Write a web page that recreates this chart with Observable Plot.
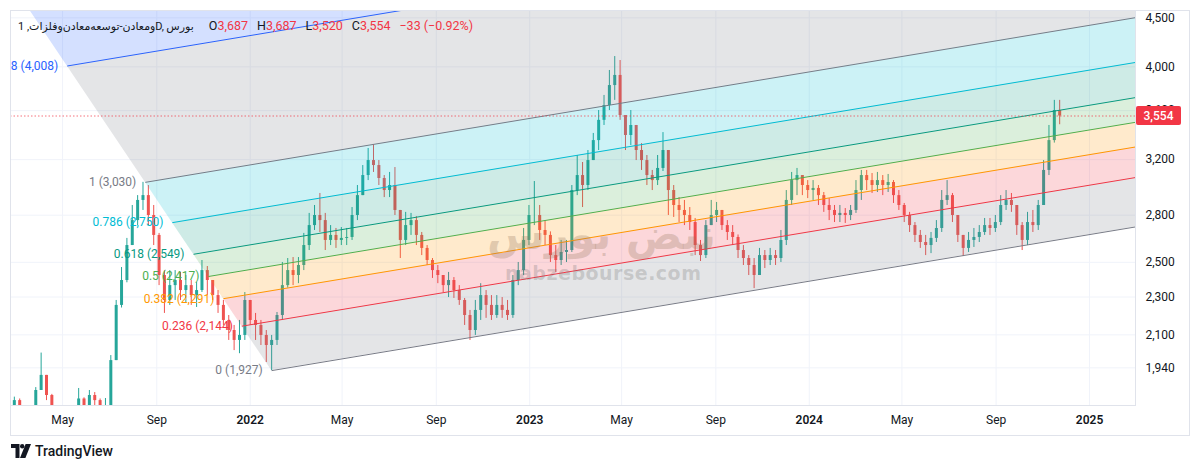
<!DOCTYPE html>
<html><head><meta charset="utf-8">
<script src="https://cdn.jsdelivr.net/npm/d3@7"></script>
<script src="https://cdn.jsdelivr.net/npm/@observablehq/plot@0.6"></script>
<style>
html,body{margin:0;padding:0;background:#fff;}
#wrap{position:relative;width:1200px;height:470px;overflow:hidden;font-family:Roboto,"DejaVu Sans",sans-serif;color:#131722;}
#wrap > svg{position:absolute;left:0;top:0;}
#frameBox{position:absolute;left:10px;top:10px;width:1178px;height:424px;border:1px solid #e0e3eb;pointer-events:none;}
#legend{position:absolute;left:18px;top:18px;font-size:12.5px;white-space:nowrap;line-height:16px;}
#legend .t{unicode-bidi:isolate;margin-right:6px;font-size:11px;letter-spacing:-0.2px;}
#legend .k{margin-left:9px;}
#legend .r{color:#f23645;}
#wm1{position:absolute;left:487px;top:210px;font:bold 42px "DejaVu Sans",sans-serif;color:rgba(150,120,95,0.28);white-space:nowrap;}
#wm2{position:absolute;left:505px;top:262px;font:bold 19px "DejaVu Sans",sans-serif;color:rgba(110,110,110,0.26);letter-spacing:0.5px;white-space:nowrap;}
#brand{position:absolute;left:11px;top:443px;display:flex;align-items:center;gap:4px;font-size:14px;font-weight:500;}
#brand svg{display:block;}
</style></head>
<body><div id="wrap"></div>
<script>
// ---------- data (weekly candles) ----------
const firstDate = "2021-02-27";
const firstOpen = 1770;
const closes = [1793,1717,1725,1745,1837,1905,1815,1760,1720,1690,
1680,1710,1800,1740,1815,1793,1730,1760,1974,2254,
2393,2603,2764,2901,2935,2798,2667,2422,2281,2364,
2393,2336,2364,2308,2336,2451,2393,2308,2254,2174,
2122,2072,2097,2281,2174,2148,2097,2047,2072,2200,
2364,2451,2422,2481,2603,2731,2798,2764,2635,2667,
2635,2648,2654,2798,2935,3080,3193,3155,3058,2971,
3007,2832,2635,2731,2764,2667,2585,2511,2451,2422,
2364,2393,2336,2281,2200,2122,2227,2308,2254,2200,
2254,2227,2200,2393,2451,2635,2798,2798,2699,2667,
2541,2511,2560,2572,2971,3080,3007,3193,3350,3517,
3645,3824,3918,3558,3391,3474,3271,3193,3080,3043,
3133,3271,2971,2866,2832,2798,2751,2603,2541,2731,
2798,2832,2731,2686,2654,2572,2523,2481,2422,2541,
2511,2541,2523,2635,2901,3043,3080,3007,2971,2986,
2935,2866,2832,2798,2812,2798,2832,2971,3080,3043,
3007,3043,3007,3029,2935,2866,2798,2731,2667,2622,
2603,2648,2712,2901,2935,2798,2667,2585,2635,2654,
2686,2731,2712,2751,2866,2901,2866,2731,2635,2751,
2731,2866,3118,3350,3601,3554];
const highs = [1808,1800,1755,1765,1850,2010,1905,1820,1765,1740,
1720,1740,1846,1805,1837,1828,1800,1802,1998,2281,
2469,2648,2866,2935,3030,3007,2866,2680,2451,2451,
2451,2440,2422,2393,2382,2511,2475,2393,2336,2281,
2200,2148,2174,2325,2281,2211,2174,2122,2097,2216,
2499,2523,2529,2529,2680,2812,2866,2950,2812,2731,
2712,2718,2712,2852,3007,3155,3287,3318,3193,3080,
3103,3140,2832,2819,2812,2790,2686,2603,2523,2481,
2422,2440,2410,2364,2292,2227,2281,2375,2336,2308,
2308,2297,2281,2422,2499,2712,2866,3036,2866,2764,
2690,2603,2635,2635,3007,3232,3178,3271,3408,3601,
3734,3965,4100,4061,3558,3601,3474,3326,3232,3118,
3232,3415,3271,3007,2921,2901,2852,2778,2635,2764,
2901,2887,2832,2764,2731,2670,2603,2541,2523,2585,
2572,2585,2572,2699,2971,3103,3133,3080,3043,3043,
3007,2957,2914,2866,2866,2845,2866,3043,3118,3118,
3095,3103,3080,3088,3043,2971,2880,2819,2751,2699,
2667,2686,2764,2971,3043,2950,2798,2667,2686,2712,
2731,2778,2778,2798,2935,2971,2950,2866,2751,2819,
2832,2901,3193,3474,3690,3690];
const lows = [1751,1690,1690,1700,1730,1837,1793,1720,1690,1660,
1650,1670,1700,1720,1730,1740,1700,1720,1755,1974,
2240,2380,2603,2731,2832,2731,2603,2364,2211,2254,
2281,2281,2265,2254,2243,2325,2308,2281,2211,2148,
2072,2022,2007,2072,2148,2072,2047,1965,1927,2047,
2174,2350,2364,2375,2451,2572,2699,2686,2572,2603,
2585,2603,2603,2635,2764,2935,3043,3103,3007,2921,
2921,2798,2523,2603,2667,2603,2541,2481,2405,2375,
2325,2297,2292,2254,2148,2072,2097,2174,2185,2174,
2185,2185,2174,2185,2364,2422,2603,2731,2635,2603,
2499,2440,2481,2499,2560,2935,2852,2971,3193,3271,
3474,3601,3690,3517,3271,3310,3193,3118,3007,2971,
3007,3110,2798,2785,2751,2731,2699,2541,2505,2523,
2731,2751,2699,2635,2603,2523,2481,2422,2347,2422,
2463,2481,2481,2499,2603,2866,2935,2935,2914,2901,
2866,2819,2764,2751,2751,2745,2764,2812,2901,2971,
2950,2957,2935,2957,2880,2832,2751,2686,2622,2585,
2541,2553,2622,2686,2866,2751,2622,2535,2560,2591,
2622,2667,2667,2686,2731,2832,2819,2667,2572,2603,
2686,2699,2866,3080,3330,3480];

// Fibonacci channel (drawing)
const levels      = [0, 0.236, 0.382, 0.5, 0.618, 0.786, 1, 1.618, 2.618];
const levelColors = ["#787b86","#f23645","#ff9800","#4caf50","#089981","#00bcd4","#787b86","#2962ff","#f23645"];
const levelLabels = ["0 (1,927)","0.236 (2,144)","0.382 (2,291)","0.5 (2,417)","0.618 (2,549)","0.786 (2,750)","1 (3,030)","1.618 (4,008)"];
const chanStart0 = new Date("2022-01-29"), chanPrice0 = 1927;
const chanStart1 = new Date("2021-08-17"), chanPrice1 = 3030;
const chanEnd = new Date("2025-03-02"), chanEndPrice0 = 2722;

// axis ticks
const xTickDates = ["2021-05-01","2021-09-01","2022-01-01","2022-05-01","2022-09-01","2023-01-01","2023-05-01","2023-09-01","2024-01-01","2024-05-01","2024-09-01","2025-01-01"];
const yTicks = [1940, 2100, 2300, 2500, 2800, 3200, 3600, 4000, 4500];
const lastClose = 3554;

// ---------- build ----------
const DAY = 864e5;
const t0 = new Date(firstDate);
const candles = closes.map((c, i) => ({
  date: new Date(+t0 + i * 7 * DAY),
  open: i ? closes[i - 1] : firstOpen,
  high: highs[i], low: lows[i], close: c
}));
const upC = candles.filter(d => d.close >= d.open);
const dnC = candles.filter(d => d.close < d.open);

const lnSpan = Math.log(chanPrice1 / chanPrice0);
const slope = Math.log(chanEndPrice0 / chanPrice0) / ((chanEnd - chanStart0) / DAY);
const startOf = f => ({t: new Date(+chanStart0 + f * (chanStart1 - chanStart0)), p: chanPrice0 * Math.exp(f * lnSpan)});
const priceAt = (f, t) => { const s = startOf(f); return s.p * Math.exp(slope * ((t - s.t) / DAY)); };

const bandMarks = levels.slice(0, -1).map((a, k) => {
  const b = levels[k + 1], sa = startOf(a), sb = startOf(b);
  const pts = [
    {x: sb.t, y1: sb.p, y2: sb.p},
    {x: sa.t, y1: sa.p, y2: priceAt(b, sa.t)},
    {x: chanEnd, y1: priceAt(a, chanEnd), y2: priceAt(b, chanEnd)}
  ];
  return Plot.areaY(pts, {x: "x", y1: "y1", y2: "y2", fill: levelColors[k], fillOpacity: 0.2, clip: true});
});
const lineMarks = levelLabels.map((lab, k) => {
  const f = levels[k], s = startOf(f);
  return Plot.link([{x1: s.t, y1: s.p, x2: chanEnd, y2: priceAt(f, chanEnd)}],
    {x1: "x1", y1: "y1", x2: "x2", y2: "y2", stroke: levelColors[k], strokeWidth: 1, clip: true});
});
const labelMarks = levelLabels.map((lab, k) => {
  const s = startOf(levels[k]);
  return Plot.text([{x: s.t, y: s.p, text: lab}], {x: "x", y: "y", text: "text", fill: levelColors[k],
    textAnchor: "end", dx: -9, fontSize: 12, clip: true});
});

const xTicks = xTickDates.map(s => new Date(s));
const fmtX = d => d.getUTCMonth() === 0 ? String(d.getUTCFullYear()) : d3.utcFormat("%b")(d);

const chart = Plot.plot({
  width: 1200, height: 440,
  marginLeft: 10, marginRight: 65, marginTop: 10, marginBottom: 35,
  style: {fontSize: "12px", fontFamily: "Roboto, 'DejaVu Sans', sans-serif", color: "#131722", background: "transparent", overflow: "visible"},
  x: {type: "utc", domain: [new Date("2021-02-22"), chanEnd], ticks: xTicks, tickFormat: fmtX, tickSize: 0, tickPadding: 10, label: null},
  y: {type: "log", domain: [1772, 4580], ticks: yTicks, tickFormat: d3.format(","), tickSize: 0, tickPadding: 10, label: null, axis: "right"},
  marks: [
    Plot.ruleX(xTicks, {stroke: "#f0f3fa"}),
    Plot.ruleY(yTicks, {stroke: "#f0f3fa"}),
    Plot.ruleX(upC, {x: "date", y1: "low", y2: "high", stroke: "#26a69a", strokeWidth: 1, clip: true}),
    Plot.ruleX(dnC, {x: "date", y1: "low", y2: "high", stroke: "#ef5350", strokeWidth: 1, clip: true}),
    Plot.ruleX(upC, {x: "date", y1: "open", y2: "close", stroke: "#26a69a", strokeWidth: 3, clip: true}),
    Plot.ruleX(dnC, {x: "date", y1: "open", y2: "close", stroke: "#ef5350", strokeWidth: 3, clip: true}),
    ...bandMarks,
    ...lineMarks,
    ...labelMarks,
    Plot.ruleY([lastClose], {stroke: "#f23645", strokeOpacity: 0.7, strokeDasharray: "1.5,2"}),
    Plot.frame({stroke: "#e0e3eb"})
  ]
});

const wrap = document.getElementById("wrap");
wrap.appendChild(chart);

// bold year labels
d3.select(chart).selectAll("text").each(function () {
  if (/^\d{4}$/.test(this.textContent.trim())) d3.select(this).attr("font-weight", 600);
});

// last price tag on the price axis
const ys = chart.scale("y");
let yy;
if (ys && typeof ys.apply === "function") yy = ys.apply(lastClose);
else { const [d0, d1] = ys.domain, [r0, r1] = ys.range; yy = r0 + (Math.log(lastClose / d0) / Math.log(d1 / d0)) * (r1 - r0); }
const svg = d3.select(chart);
svg.append("rect").attr("x", 1136).attr("y", yy - 9.5).attr("width", 45).attr("height", 19).attr("rx", 2).attr("fill", "#f23645");
svg.append("text").attr("x", 1158.5).attr("y", yy).attr("dy", "0.35em").attr("text-anchor", "middle")
  .attr("fill", "#fff").attr("font-size", 12).attr("font-weight", 500).text(d3.format(",")(lastClose));

// overlays: border, legend, watermark, brand
wrap.insertAdjacentHTML("beforeend", `
<div id="frameBox"></div>
<div id="legend"><span class="t">ومعادن-توسعه‌معادن‌وفلزات, 1D, بورس</span><span class="k">O<span class="r">3,687</span></span><span class="k">H<span class="r">3,687</span></span><span class="k">L<span class="r">3,520</span></span><span class="k">C<span class="r">3,554</span></span><span class="k r">−33 (−0.92%)</span></div>
<div id="wm1">نبض بورس</div>
<div id="wm2">nabzebourse.com</div>
<div id="brand"><svg width="20" height="14" viewBox="0 0 20 14"><path d="M0 0h8.5v14h-4V4H0z" fill="#131722"/><circle cx="11.2" cy="2.2" r="2.2" fill="#131722"/><path d="M14.6 0H20l-5.6 14H9z" fill="#131722"/></svg><span>TradingView</span></div>
`);
</script>
</body></html>
